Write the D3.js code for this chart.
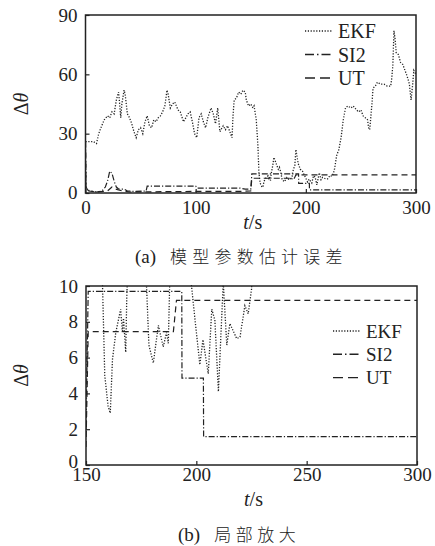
<!DOCTYPE html>
<html><head><meta charset="utf-8">
<script src="https://cdn.jsdelivr.net/npm/d3@7"></script>
<style>
html,body{margin:0;padding:0;background:#fff;}
</style></head>
<body>
<svg id="c" width="435" height="546"></svg>
<script>
// ---------- data ----------
const ekfT = [0,3,7,10,12,14,17,20,22,24,26,28,30,31,32,33,35,36,38,40,42,44,46,48,50,52,54,56,58,60,62,64,66,68,70,72,74,75,77,79,81,84,86,89,91,93,95,97,99,101,103,105,107,109,111,114,116,118,120,122,125,127,129,131,133,134,135,137,139,141,143,145,146,148,150,152,153,155,156.5,157.4,158.5,160,161,162,163.5,165.7,166.5,167,168,168.5,170,171,173,175,176,177,177.5,178.5,180.5,182.8,185,186.5,187.3,188,190,191,193,195,197,197.9,199.5,201.6,203,205.4,207,208.4,210,212.2,213.8,215.2,218.3,219.8,222,223.5,225,226,228,230,232,234,236,238,241,243,246,248,250,252,254,256,257,258,260,261,263,265,268,271,274,277,278,279,280,281,282,284,286,288,290,292,294,295.5,297,298,300];
const ekfV = [26,26,26,25,30,33,37,39,38,41,40,47,51,45,38,45,52,50,40,38,35,31,28,32,33,30,36,39,34,33,37,36,38,39,41,44,52,50,43,45,46,42,41,36,38,40,41,36,30,28,38,40,36,33,38,43,40,35,43,31,34,32,34,31,28,40,47,48,51,50,52,51,47,44,45,43,44,37,24,10.5,5,3.3,2.9,5.9,7.4,8.7,7.4,8.2,6.3,9.5,14,18,15,12,13,11,9.8,6.7,5.7,7.8,6.6,7.4,6.8,10.5,14,22,15,12,11,9.9,8,5.6,7.0,5.1,8.7,8.1,4.1,10.2,6.7,7.9,7.06,7.15,8.9,8.45,9.8,12,19,22,28,37,43,44,43,44,42,41,42,39,38,37,33,32,45,53,54,56,55,55,54,54,58,65,82,78,71,70,66,65,62,59,55,47,55,62,60];

const si2T = [0,0.5,2,5,10,15,18,20,22,24,26,28,30,35,38,45,55,56,100,101,140,145,150,151,193.4,193.5,203.2,203.3,300];
const si2V = [26,3,1.5,1,0.5,1,3,6,11,10,6,3,2,2,1,0.8,1,3.5,3.5,2.5,2.5,2,2,9.7,9.7,4.85,4.85,1.58,1.58];

const utT = [0,0.5,3,10,20,24,27,30,35,40,60,100,140,150,151,189.6,191,300];
const utV = [26,2,1,0.5,1,3,2,1.5,1,0.5,0.6,0.8,0.8,1,7.45,7.45,9.2,9.2];

const seriesNames = ["EKF","SI2","UT"];
const topXTicks = [0,100,200,300];
const topYTicks = [0,30,60,90];
const botXTicks = [150,200,250,300];
const botYTicks = [0,2,4,6,8,10];
const captionA = ["(a)","模型参数估计误差"];
const captionB = ["(b)","局部放大"];

// ---------- drawing ----------
const SERIF = "Liberation Serif, Times New Roman, DejaVu Serif, serif";
const CJK = "Noto Sans CJK SC, Noto Sans CJK JP, sans-serif";
const svg = d3.select("#c");
const col = "#222";
const styles = {
  EKF:{dash:"1.2,1.6", w:1.3},
  SI2:{dash:"6,2,1.2,2", w:1.2},
  UT:{dash:"6,4", w:1.2}
};
const zip = (T,V)=>T.map((t,i)=>({t:t,v:V[i]}));
const data = {EKF:zip(ekfT,ekfV), SI2:zip(si2T,si2V), UT:zip(utT,utV)};

function panel(cfg){
  const x = d3.scaleLinear().domain(cfg.xd).range([cfg.l,cfg.r]);
  const y = d3.scaleLinear().domain(cfg.yd).range([cfg.b,cfg.t]);
  const g = svg.append("g");
  const cid = "clip"+cfg.id;
  g.append("clipPath").attr("id",cid).append("rect")
    .attr("x",cfg.l).attr("y",cfg.t-1).attr("width",cfg.r-cfg.l).attr("height",cfg.b-cfg.t+1);
  const line = d3.line().x(d=>x(d.t)).y(d=>y(d.v));
  const pl = g.append("g").attr("clip-path","url(#"+cid+")");
  seriesNames.slice().reverse().forEach(n=>{
    const d = data[n].filter(p=>p.t>=cfg.xd[0]-2);
    pl.append("path").datum(d).attr("d",line).attr("fill","none")
      .attr("stroke",col).attr("stroke-width",styles[n].w).attr("stroke-dasharray",styles[n].dash);
  });
  // axes (ticks inward)
  const xa = d3.axisBottom(x).tickValues(cfg.xt).tickSizeInner(-4).tickSizeOuter(0).tickPadding(cfg.xpad);
  const ya = d3.axisLeft(y).tickValues(cfg.yt).tickSizeInner(-4).tickSizeOuter(0).tickPadding(8);
  const gx = g.append("g").attr("transform","translate(0,"+cfg.b+")").call(xa);
  const gy = g.append("g").attr("transform","translate("+cfg.l+",0)").call(ya);
  [gx,gy].forEach(a=>{
    a.attr("font-family",SERIF).attr("font-size",19);
    a.select(".domain").remove();
    a.selectAll("line").attr("stroke",col).attr("stroke-width",1.2);
    a.selectAll("text").attr("fill",col).attr("font-family",SERIF).attr("font-size",19);
  });
  // lift the lowest y label slightly (as in the reference)
  gy.selectAll(".tick text").filter(d=>d===cfg.yd[0]).attr("y",-cfg.zeroLift);
  // frame
  g.append("rect").attr("x",cfg.l).attr("y",cfg.t).attr("width",cfg.r-cfg.l).attr("height",cfg.b-cfg.t)
    .attr("fill","none").attr("stroke",col).attr("stroke-width",1.5);
  // y label
  const yl = g.append("text").attr("transform","translate("+(cfg.l-58)+","+((cfg.t+cfg.b)/2)+") rotate(-90)")
    .attr("text-anchor","middle").attr("font-size",20).attr("font-family",SERIF).attr("fill",col);
  yl.append("tspan").text("Δ");
  yl.append("tspan").attr("font-style","italic").text("θ");
  // x label
  const xl = g.append("text").attr("x",x.range()[0]+(x.range()[1]-x.range()[0])/2+2).attr("y",cfg.xlabY)
    .attr("text-anchor","middle").attr("font-size",20).attr("font-family",SERIF).attr("fill",col);
  xl.append("tspan").attr("font-style","italic").text("t");
  xl.append("tspan").text("/s");
  // legend
  seriesNames.forEach((n,i)=>{
    const yy = cfg.legY + i*cfg.legDy;
    g.append("line").attr("x1",cfg.legX).attr("x2",cfg.legX+cfg.legW).attr("y1",yy).attr("y2",yy)
      .attr("stroke",col).attr("stroke-width",styles[n].w+0.2)
      .attr("stroke-dasharray", n==="EKF"?"1.2,1.6":(n==="SI2"?"9,3,1.5,3":"10,5"));
    g.append("text").attr("x",cfg.legX+cfg.legW+6).attr("y",yy).attr("dy","0.35em")
      .attr("font-family",SERIF).attr("fill",col)
      .attr("font-size",cfg.legFs).text(n);
  });
  // caption
  const cap = g.append("text").attr("x",cfg.capX).attr("y",cfg.capY).attr("font-size",19)
    .attr("font-family",SERIF).attr("fill",col);
  cap.append("tspan").text(cfg.cap[0]);
  cap.append("tspan").attr("font-family",CJK).attr("font-weight",300).attr("dx",14).attr("font-size",17)
    .attr("letter-spacing",cfg.capLs).text(cfg.cap[1]);
}

panel({id:"a", xd:[0,300], yd:[0,90], l:85.5, r:416, t:15, b:193,
  xt:topXTicks, yt:topYTicks, xpad:8, xlabY:229, zeroLift:1,
  legX:305, legW:27, legY:31, legDy:23.5, legFs:20,
  cap:captionA, capX:135, capY:263, capLs:5.2});

panel({id:"b", xd:[150,300], yd:[0,10], l:86, r:417, t:286, b:465,
  xt:botXTicks, yt:botYTicks, xpad:2, xlabY:506, zeroLift:4,
  legX:333, legW:27, legY:331, legDy:23.3, legFs:19,
  cap:captionB, capX:178, capY:541, capLs:4.5});
</script>
</body></html>
